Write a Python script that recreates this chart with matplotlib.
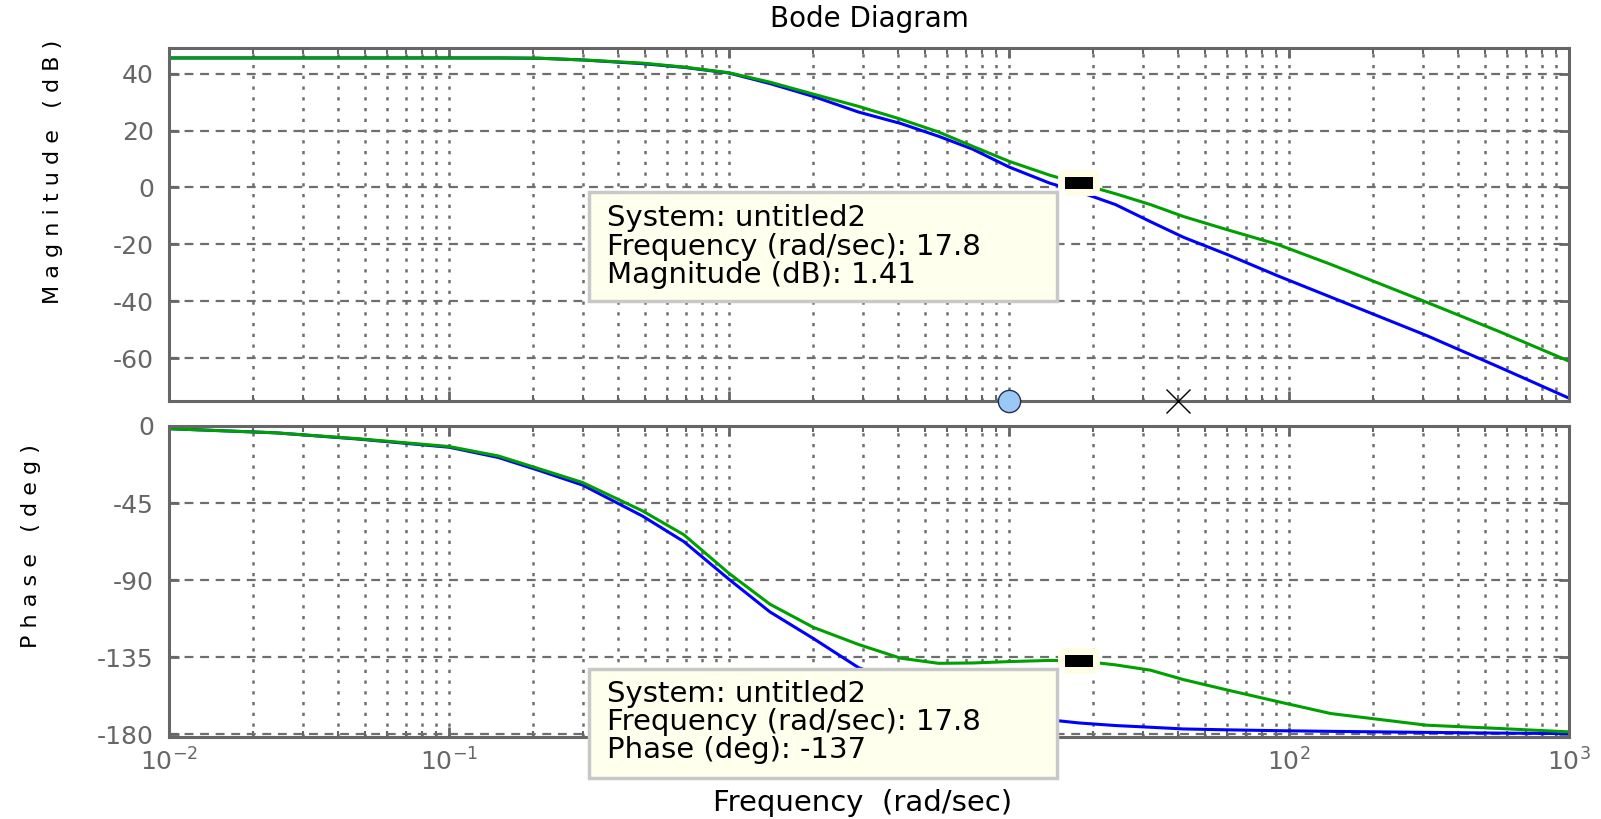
import matplotlib
matplotlib.use("Agg")
import matplotlib.pyplot as plt
from matplotlib import font_manager
from matplotlib.ticker import LogLocator, NullFormatter, FuncFormatter
from matplotlib.markers import MarkerStyle
from matplotlib.patches import Rectangle

plt.rcParams["axes.unicode_minus"] = False

# frequency grid (rad/sec)
w = [0.01, 0.024, 0.047, 0.1, 0.15, 0.21, 0.3, 0.49, 0.69, 1.0, 1.4, 2.0, 2.9, 4.1,
     5.6, 7.4, 10, 14, 17.8, 24, 32, 42, 60, 91, 141, 310, 560, 1000]

mag_blue = [45.5, 45.5, 45.5, 45.5, 45.5, 45.4, 44.8, 43.5, 42.2, 40.2, 36.5, 32.0, 26.5, 22.5,
            18.0, 13.5, 7.2, 1.5, -1.5, -6.0, -12.0, -17.5, -23.5, -31.0, -38.5, -52.0, -63.0, -74.0]
mag_green = [45.5, 45.5, 45.5, 45.5, 45.5, 45.4, 44.8, 43.7, 42.3, 40.3, 37.0, 32.8, 28.5, 24.0,
             19.5, 14.5, 9.2, 4.3, 1.41, -2.2, -6.0, -10.2, -14.8, -20.0, -27.0, -40.3, -50.5, -61.0]

ph_blue = [-1.6, -4.0, -7.6, -12.4, -18.4, -26.0, -34.5, -52.5, -67.5, -89.5, -108.5, -124.0, -141.0, -150.0,
           -157.0, -162.0, -166.5, -171.5, -173.3, -174.8, -175.8, -176.8, -177.3, -177.8, -178.2, -178.8, -179.2, -179.5]
ph_green = [-1.6, -4.0, -7.4, -12.0, -17.5, -25.0, -33.0, -49.5, -63.5, -86.0, -104.0, -117.5, -127.5, -135.5,
            -138.5, -138.3, -137.5, -136.8, -137.0, -139.4, -142.5, -148.0, -154.0, -160.8, -167.8, -174.6, -176.5, -178.5]

zero_w = [10]
pole_w = [40]
pick_w = 17.8
pick_mag = 1.41
pick_ph = -137

mag_ticks = [40, 20, 0, -20, -40, -60]
ph_ticks = [0, -45, -90, -135, -180]
hidden_decades = [1, 10]   # covered by the data-tip box in the original

box_mag = ["System: untitled2", "Frequency (rad/sec): 17.8", "Magnitude (dB): 1.41"]
box_ph = ["System: untitled2", "Frequency (rad/sec): 17.8", "Phase (deg): -137"]

gray = "#666666"
gridc = "#6e6e6e"

# narrow font for the rotated labels if there is one
names = {f.name for f in font_manager.fontManager.ttflist}
if "Liberation Sans Narrow" in names:
    ylab_font, ylab_size = "Liberation Sans Narrow", 21
else:
    ylab_font, ylab_size = "DejaVu Sans", 16


def decade_fmt(x, pos):
    if any(abs(x - h) < 1e-9 * h for h in hidden_decades):
        return ""
    e = int(round(__import__("math").log10(x)))
    return "$10^{%d}$" % e


fig = plt.figure(figsize=(16.01, 8.19), dpi=100)
ax1 = fig.add_axes([0.1056, 0.5104, 0.8744, 0.4310])
ax2 = fig.add_axes([0.1056, 0.1001, 0.8744, 0.3798], sharex=ax1)

ax1.plot(w, mag_blue, color="#0000ff", lw=2.2)
ax1.plot(w, mag_green, color="#00a000", lw=2.2)
ax2.plot(w, ph_blue, color="#0000ff", lw=2.2)
ax2.plot(w, ph_green, color="#00a000", lw=2.2)

for ax in (ax1, ax2):
    ax.set_xscale("log")
    ax.set_xlim(0.01, 1000)
    ax.xaxis.set_major_locator(LogLocator(base=10, numticks=10))
    ax.xaxis.set_major_formatter(FuncFormatter(decade_fmt))
    ax.xaxis.set_minor_locator(LogLocator(base=10, subs=range(2, 10), numticks=100))
    ax.xaxis.set_minor_formatter(NullFormatter())
    ax.grid(True, which="major", axis="y", ls=(0, (4, 3)), lw=1.6, color=gridc)
    ax.grid(True, which="both", axis="x", ls=(0, (1.3, 3)), lw=1.8, color=gridc)
    for s in ax.spines.values():
        s.set_color(gray)
        s.set_linewidth(2.2)
    ax.tick_params(which="major", direction="in", length=7, width=2, color=gray,
                   labelcolor=gray, labelsize=18, top=True, right=True)
    ax.tick_params(which="minor", direction="in", length=4, width=1.5, color=gray,
                   top=True, right=True)
    ax.tick_params(axis="y", pad=11)
    ax.tick_params(axis="x", pad=8)

ax1.set_ylim(-75, 49)
ax1.set_yticks(mag_ticks)
ax1.tick_params(axis="x", which="both", labelbottom=False)
ax2.set_ylim(-181.5, 0)
ax2.set_yticks(ph_ticks)

# pole / zero markers on the lower edge of the magnitude axes
ax1.plot(zero_w, [-75] * len(zero_w), "o", ms=16, mfc="#9cc8f5", mec="#203050", mew=1,
         clip_on=False, zorder=5)
ax1.plot(pole_w, [-75] * len(pole_w), "x", ms=17, color="black", mew=1, clip_on=False, zorder=5)

# data-tip markers
rect = [(-1, -0.48), (1, -0.48), (1, 0.48), (-1, 0.48), (-1, -0.48)]
for ax, yv in ((ax1, pick_mag), (ax2, pick_ph)):
    ax.plot([pick_w], [yv], ls="none", marker=MarkerStyle(rect, joinstyle="round"), ms=19.5,
            mfc="#fffde6", mec="#fffde6", mew=10, zorder=6)
    ax.plot([pick_w], [yv], ls="none", marker=rect, ms=19.5, mfc="black", mew=0, zorder=7)

# data-tip boxes
for y0, lines, ys in ((0.6325, box_mag, (0.7340, 0.6985, 0.6645)),
                      (0.0500, box_ph, (0.1530, 0.1185, 0.0845))):
    fig.add_artist(Rectangle((0.3679, y0), 0.2923, 0.1331, transform=fig.transFigure,
                             fc="#ffffee", ec="#c8c8c8", lw=2.5, zorder=3))
    for t, yy in zip(lines, ys):
        fig.text(0.379, yy, t, fontsize=21, va="center", ha="left", color="black", zorder=4)

fig.text(0.5428, 0.9774, "Bode Diagram", fontsize=20, ha="center", va="center")
fig.text(0.539, 0.019, "Frequency  (rad/sec)", fontsize=21, ha="center", va="center")
fig.text(0.0331, 0.79, "M a g n i t u d e   ( d B )", fontsize=ylab_size, family=ylab_font,
         rotation=90, ha="center", va="center")
fig.text(0.0195, 0.3335, "P h a s e   ( d e g )", fontsize=ylab_size, family=ylab_font,
         rotation=90, ha="center", va="center")

fig.savefig("out.png", dpi=100)
